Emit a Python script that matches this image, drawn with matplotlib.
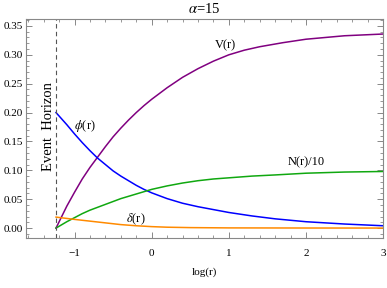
import numpy as np
import matplotlib
matplotlib.use("Agg")
import matplotlib.pyplot as plt
from matplotlib.ticker import MultipleLocator, FormatStrFormatter

plt.rcParams["font.family"] = ["Liberation Serif", "DejaVu Serif"]
plt.rcParams["mathtext.fontset"] = "stix"

# values (x = log r)
x_v = [-1.24, -1.1, -1.0, -0.9, -0.8, -0.7, -0.6, -0.5, -0.4, -0.3, -0.2, -0.1,
       0.0, 0.2, 0.4, 0.6, 0.8, 1.0, 1.2, 1.4, 1.7, 2.0, 2.5, 3.0]
v_r = [0.0, 0.038, 0.062, 0.085, 0.105, 0.123, 0.141, 0.158, 0.173, 0.187, 0.200, 0.212,
       0.223, 0.243, 0.261, 0.276, 0.289, 0.300, 0.308, 0.314, 0.321, 0.327, 0.333, 0.336]

x_phi = [-1.24, -1.1, -1.0, -0.9, -0.8, -0.7, -0.6, -0.5, -0.4, -0.3, -0.2, -0.1,
         0.0, 0.2, 0.4, 0.6, 0.8, 1.0, 1.3, 1.6, 2.0, 2.5, 3.0]
phi_r = [0.200, 0.179, 0.163, 0.148, 0.134, 0.121, 0.110, 0.099, 0.090, 0.082, 0.074, 0.067,
         0.061, 0.051, 0.043, 0.037, 0.032, 0.027, 0.021, 0.016, 0.011, 0.007, 0.004]

x_n = [-1.24, -1.1, -1.0, -0.9, -0.8, -0.7, -0.6, -0.5, -0.4, -0.3, -0.2, -0.1,
       0.0, 0.2, 0.4, 0.6, 0.8, 1.0, 1.3, 1.6, 2.0, 2.5, 3.0]
n_r = [0.0, 0.011, 0.018, 0.025, 0.031, 0.036, 0.041, 0.046, 0.051, 0.055, 0.059, 0.063,
       0.067, 0.073, 0.078, 0.082, 0.085, 0.087, 0.090, 0.092, 0.095, 0.097, 0.098]

x_d = [-1.24, -1.0, -0.8, -0.6, -0.4, -0.2, 0.0, 0.2, 0.5, 1.0, 2.0, 3.0]
d_r = [0.019, 0.015, 0.012, 0.009, 0.006, 0.004, 0.0025, 0.0015, 0.0008, 0.0003, 0.0001, 0.0]

horizon = -1.24

fig = plt.figure(figsize=(3.87, 2.88), dpi=100)
ax = fig.add_axes([0.067, 0.174, 0.923, 0.760])

ax.plot(x_v, v_r, color="#800080", lw=1.1)
ax.plot(x_phi, phi_r, color="#0000ff", lw=1.1)
ax.plot(x_n, n_r, color="#10a810", lw=1.1)
ax.plot(x_d, d_r, color="#ff8a00", lw=1.1)
ax.axvline(horizon, color="#555555", lw=0.8, ls=(0, (4, 3)))

ax.text(0.95, 0.317, "V(r)", fontsize=9, ha="center", va="center")
ax.text(-0.87, 0.177, r"$\phi$(r)", fontsize=9, ha="center", va="center")
ax.text(2.0, 0.114, "N(r)/10", fontsize=9, ha="center", va="center")
ax.text(-0.2, 0.016, r"$\delta$(r)", fontsize=9, ha="center", va="center")
ax.text(-1.34, 0.176, "Event  Horizon", fontsize=10.5, rotation=90,
        ha="center", va="center")

ax.set_title(r"$\alpha$=15", fontsize=10.5, pad=4)
ax.set_xlabel("log(r)", fontsize=8, labelpad=7)

ax.set_xlim(-1.63, 3.0)
ax.set_ylim(-0.017, 0.362)
ax.xaxis.set_major_locator(MultipleLocator(1))
ax.xaxis.set_minor_locator(MultipleLocator(0.2))
ax.yaxis.set_major_locator(MultipleLocator(0.05))
ax.yaxis.set_minor_locator(MultipleLocator(0.01))
ax.yaxis.set_major_formatter(FormatStrFormatter("%.2f"))
ax.tick_params(which="both", direction="in", top=True, right=True,
               color="#888888", labelsize=8)
ax.tick_params(which="major", length=4, width=0.7)
ax.tick_params(which="minor", length=2, width=0.6)
ax.tick_params(axis="x", pad=8)
ax.tick_params(axis="y", pad=2)
for s in ax.spines.values():
    s.set_color("#888888")
    s.set_linewidth(0.8)

fig.savefig("out.png", dpi=100)
